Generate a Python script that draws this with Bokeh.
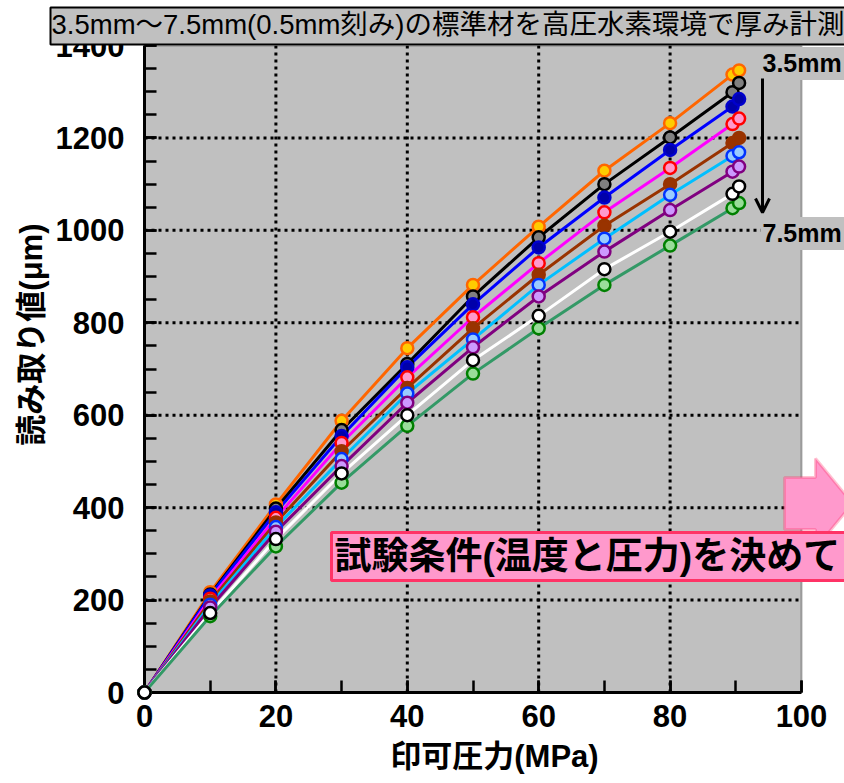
from bokeh.plotting import figure
from bokeh.models import (Range1d, SingleIntervalTicker, Label, PolyAnnotation, Arrow, OpenHead,
                          BoxAnnotation, Title)
from bokeh.embed import file_html
from bokeh.resources import INLINE

# ---- data ----
pressure = [0, 10, 20, 30, 40, 50, 60, 70, 80, 89.5, 90.5]
thickness = ["3.5mm", "4.0mm", "4.5mm", "5.0mm", "5.5mm", "6.0mm", "6.5mm", "7.0mm", "7.5mm"]
t35 = [0, 217, 407, 588, 745, 882, 1008, 1129, 1232, 1337, 1346]
t40 = [0, 212, 398, 568, 711, 857, 985, 1100, 1201, 1299, 1319]
t45 = [0, 210, 390, 555, 704, 840, 963, 1071, 1174, 1268, 1284]
t50 = [0, 203, 378, 540, 682, 812, 929, 1039, 1135, 1230, 1242]
t55 = [0, 197, 368, 522, 659, 788, 904, 1010, 1100, 1189, 1200]
t60 = [0, 190, 358, 505, 647, 764, 882, 982, 1077, 1161, 1169]
t65 = [0, 184, 348, 490, 627, 747, 857, 954, 1044, 1127, 1138]
t70 = [0, 172, 332, 474, 600, 719, 815, 916, 997, 1079, 1095]
t75 = [0, 165, 316, 454, 577, 690, 788, 882, 967, 1048, 1059]
series = [t35, t40, t45, t50, t55, t60, t65, t70, t75]
x_grid_ticks = [20, 40, 60, 80]
y_grid_ticks = [200, 400, 600, 800, 1000, 1200]
x_title = "印可圧力(MPa)"
y_title = "読み取り値(μm)"
title_text = "3.5mm～7.5mm(0.5mm刻み)の標準材を高圧水素環境で厚み計測"
note_text = "試験条件(温度と圧力)を決めて"

X_MAX, Y_MAX = 100, 1400

# ---- styles ----
line_colors = ["#FF6600", "#000000", "#0000FF", "#FF00FF", "#993300", "#00BFFF", "#800080", "#FFFFFF", "#339966"]
mk_line = ["#FF6600", "#000000", "#0000CC", "#FF0000", "#993300", "#0033FF", "#800080", "#000000", "#008000"]
mk_fill = ["#FFCC00", "#808080", "#0000AA", "#FF99CC", "#993300", "#99CCFF", "#CC99FF", "#FFFFFF", "#99DD99"]
MIXED_FONT = "Liberation Sans, Noto Sans CJK JP"

W, H = 844, 783
L, T, B = 144, 45, 91
# plot area in pixels: x 144..801, y 45..692 ; frame extends to the canvas right edge
PLOT_W = 657
FRAME_W = W - L

p = figure(width=W, height=H,
           x_range=Range1d(0, X_MAX * FRAME_W / PLOT_W),
           y_range=Range1d(0, Y_MAX),
           output_backend="svg", toolbar_location=None,
           min_border_left=L, min_border_right=0, min_border_top=T, min_border_bottom=B,
           background_fill_color="white", border_fill_color="white")
p.outline_line_color = None
p.grid.visible = False

# main title (grey box, black border) above the plot
p.add_layout(Title(text=title_text, align="left", offset=-94, vertical_align="middle",
                   text_font=MIXED_FONT, text_font_size="27.5px", text_font_style="normal",
                   text_color="black", background_fill_color="#C0C0C0",
                   border_line_color="black", border_line_width=2, standoff=0,
                   padding=(1, 3, 1, 5)), "above")

# grey plot area with black top/right border
p.add_layout(BoxAnnotation(left=0, right=X_MAX, bottom=0, top=Y_MAX, fill_color="#C0C0C0",
                           fill_alpha=1, line_color="black", line_width=2, level="underlay"))

p.xaxis.ticker = SingleIntervalTicker(interval=20, num_minor_ticks=2)
p.yaxis.ticker = SingleIntervalTicker(interval=200, num_minor_ticks=4)
p.xaxis.bounds = (0, X_MAX)
p.yaxis.bounds = (0, Y_MAX)
for ax in (p.xaxis, p.yaxis):
    ax.axis_line_width = 3
    ax.axis_line_color = "black"
    ax.major_tick_in = 12
    ax.major_tick_out = 0
    ax.minor_tick_in = 12
    ax.minor_tick_out = 0
    ax.major_tick_line_width = 2.5
    ax.minor_tick_line_width = 2.5
    ax.major_tick_line_color = "black"
    ax.minor_tick_line_color = "black"
    ax.major_label_text_font = "Liberation Sans"
    ax.major_label_text_font_style = "bold"
    ax.major_label_text_font_size = "31px"
    ax.major_label_text_color = "black"
p.xaxis.axis_label = x_title
p.xaxis.axis_label_text_font = MIXED_FONT
p.xaxis.axis_label_text_font_style = "bold"
p.xaxis.axis_label_text_color = "black"
p.xaxis.axis_label_text_font_size = "31px"
p.xaxis.major_label_standoff = 12
p.yaxis.major_label_standoff = 20
p.xaxis.axis_label_standoff = 9

# y axis title placed as a side title so it can sit where the reference has it
p.add_layout(Title(text=y_title, align="right", offset=178, vertical_align="middle",
                   text_font=MIXED_FONT, text_font_style="bold",
                   text_font_size="31px", text_color="black", standoff=6), "left")

# dotted grid
p.segment(x0=x_grid_ticks, y0=[0] * len(x_grid_ticks), x1=x_grid_ticks, y1=[Y_MAX] * len(x_grid_ticks),
          line_color="black", line_width=3, line_dash="3 4")
p.segment(x0=[0] * len(y_grid_ticks), y0=y_grid_ticks, x1=[X_MAX] * len(y_grid_ticks), y1=y_grid_ticks,
          line_color="black", line_width=3, line_dash="3 4")

for i, ys in enumerate(series):
    p.line(pressure, ys, line_color=line_colors[i], line_width=3)

order = [0, 1, 2, 3, 4, 5, 6, 8, 7]
for i in order:
    r = p.scatter(pressure, series[i], size=12, line_color=mk_line[i], fill_color=mk_fill[i],
                  line_width=2.5, marker="circle")
    r.level = "overlay"

def sx(px):
    return px - L

def sy(py):
    return (H - B) - py

# right-side thickness labels
for txt, py in ((thickness[0], 63), (thickness[-1], 233)):
    p.add_layout(Label(x=sx(760), y=sy(py), x_units="screen", y_units="screen", text=txt,
                       text_font="Liberation Sans", text_font_style="bold", text_font_size="25px",
                       text_color="black", text_align="left", text_baseline="middle",
                       background_fill_color="#C0C0C0", padding=(2, 20, 2, 3)))

p.add_layout(Arrow(x_start=sx(762), y_start=sy(78), x_end=sx(762), y_end=sy(212),
                   start_units="screen", end_units="screen", line_width=3, line_color="black",
                   end=OpenHead(size=14, line_width=3, line_color="black")))

# pink block arrow
p.add_layout(PolyAnnotation(xs=[sx(784), sx(815), sx(815), sx(852), sx(815), sx(815), sx(784)],
                            ys=[sy(477), sy(477), sy(458), sy(503), sy(548), sy(529), sy(529)],
                            xs_units="screen", ys_units="screen",
                            fill_color="#FF99CC", fill_alpha=1, line_color="#FF3366", line_width=3))

# pink note box
p.add_layout(Label(x=sx(331), y=sy(556), x_units="screen", y_units="screen", text=note_text,
                   text_font=MIXED_FONT, text_font_style="bold", text_font_size="37px",
                   text_color="black", text_align="left", text_baseline="middle",
                   background_fill_color="#FF99CC", border_line_color="#FF3366", border_line_width=3,
                   padding=(3, 40, 3, 4)))

open("out.html", "w").write(file_html(p, INLINE))
